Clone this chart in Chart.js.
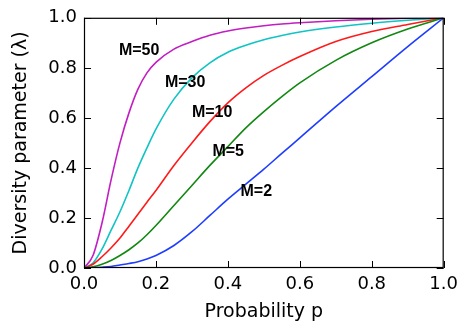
<!DOCTYPE html>
<html>
<head>
<meta charset="utf-8">
<script src="https://cdn.jsdelivr.net/npm/chart.js@4"></script>
<style>
    html, body { margin: 0; padding: 0; background: #ffffff; }
    #chart { display: block; }
</style>
</head>
<body>
<canvas id="chart" width="464" height="327"></canvas>
<script>
// Probability values where each curve is sampled
const pValues = [0, 0.025, 0.05, 0.075, 0.1, 0.125, 0.15, 0.175, 0.2, 0.25, 0.3, 0.35, 0.4, 0.45, 0.5, 0.55, 0.6, 0.7, 0.8, 0.9, 1.0];

// Diversity parameter for each M
const lambdaM2  = [0, 0.001, 0.003, 0.006, 0.012, 0.018, 0.025, 0.036, 0.05, 0.09, 0.145, 0.21, 0.275, 0.335, 0.395, 0.458, 0.52, 0.645, 0.765, 0.885, 1];
const lambdaM5  = [0, 0.005, 0.015, 0.03, 0.05, 0.073, 0.10, 0.133, 0.17, 0.25, 0.33, 0.41, 0.485, 0.56, 0.625, 0.685, 0.74, 0.83, 0.90, 0.955, 1];
const lambdaM10 = [0, 0.015, 0.045, 0.08, 0.12, 0.167, 0.215, 0.263, 0.31, 0.41, 0.50, 0.585, 0.66, 0.72, 0.77, 0.81, 0.845, 0.905, 0.945, 0.973, 1];
const lambdaM30 = [0, 0.02, 0.075, 0.15, 0.225, 0.31, 0.40, 0.48, 0.555, 0.675, 0.76, 0.82, 0.862, 0.89, 0.912, 0.929, 0.943, 0.963, 0.978, 0.99, 1];
const lambdaM50 = [0, 0.05, 0.18, 0.35, 0.5, 0.62, 0.715, 0.78, 0.822, 0.875, 0.905, 0.93, 0.947, 0.959, 0.968, 0.975, 0.98, 0.988, 0.994, 0.998, 1];

// Curve labels and where they sit (in data units: p, lambda)
const curveNames  = ['M=2', 'M=5', 'M=10', 'M=30', 'M=50'];
const labelP      = [0.435, 0.357, 0.300, 0.225, 0.097];
const labelLambda = [0.306, 0.465, 0.622, 0.742, 0.867];

// Tick values shared by both axes
const tickValues = [0, 0.2, 0.4, 0.6, 0.8, 1.0];

const LINE_COLORS = ['#1f3dff', '#118811', '#ff1a1a', '#11c4c4', '#c21ec2'];
const AXIS_FONT = 'DejaVu Sans';

const seriesList = [lambdaM2, lambdaM5, lambdaM10, lambdaM30, lambdaM50];

const datasets = seriesList.map((series, i) => ({
    label: curveNames[i],
    data: pValues.map((p, j) => ({ x: p, y: series[j] })),
    borderColor: LINE_COLORS[i],
    borderWidth: 1.6,
    pointRadius: 0,
    fill: false,
    cubicInterpolationMode: 'monotone'
}));

// Box around the plot with inward ticks on all four sides
const frameTicks = {
    id: 'frameTicks',
    afterDatasetsDraw(chart) {
        const { ctx, chartArea: a, scales } = chart;
        const len = 7;
        ctx.save();
        ctx.strokeStyle = '#000000';
        ctx.lineWidth = 1;
        ctx.beginPath();
        tickValues.forEach(v => {
            const x = Math.round(scales.x.getPixelForValue(v)) + 0.5;
            const y = Math.round(scales.y.getPixelForValue(v)) + 0.5;
            ctx.moveTo(x, a.bottom); ctx.lineTo(x, a.bottom - len);
            ctx.moveTo(x, a.top); ctx.lineTo(x, a.top + len);
            ctx.moveTo(a.left, y); ctx.lineTo(a.left + len, y);
            ctx.moveTo(a.right, y); ctx.lineTo(a.right - len, y);
        });
        ctx.stroke();
        ctx.lineWidth = 1.2;
        ctx.strokeRect(a.left + 0.5, a.top + 0.5, a.right - a.left - 1, a.bottom - a.top - 1);

        // curve names
        ctx.fillStyle = '#000000';
        ctx.font = 'bold 16px "Liberation Sans", Arial, sans-serif';
        ctx.textAlign = 'left';
        ctx.textBaseline = 'middle';
        curveNames.forEach((name, i) => {
            ctx.fillText(name, scales.x.getPixelForValue(labelP[i]), scales.y.getPixelForValue(labelLambda[i]));
        });
        ctx.restore();
    }
};

new Chart(document.getElementById('chart').getContext('2d'), {
    type: 'line',
    data: { datasets: datasets },
    options: {
        responsive: false,
        animation: false,
        layout: { padding: { left: 0, right: 16, top: 16, bottom: 0 } },
        plugins: {
            legend: { display: false },
            tooltip: { enabled: false }
        },
        scales: {
            x: {
                type: 'linear',
                min: 0,
                max: 1,
                afterFit(scale) { scale.height = 59; },
                afterBuildTicks(scale) { scale.ticks = tickValues.map(v => ({ value: v })); },
                grid: { display: false, drawTicks: false },
                border: { display: false },
                ticks: {
                    padding: 6,
                    color: '#000000',
                    maxRotation: 0,
                    font: { family: AXIS_FONT, size: 18 },
                    callback: v => v.toFixed(1)
                },
                title: {
                    display: true,
                    text: 'Probability p',
                    color: '#000000',
                    font: { family: AXIS_FONT, size: 19 },
                    padding: { top: 4, bottom: 4 }
                }
            },
            y: {
                type: 'linear',
                min: 0,
                max: 1,
                afterFit(scale) { scale.width = 84; },
                afterBuildTicks(scale) { scale.ticks = tickValues.map(v => ({ value: v })); },
                grid: { display: false, drawTicks: false },
                border: { display: false },
                ticks: {
                    padding: 7,
                    color: '#000000',
                    font: { family: AXIS_FONT, size: 18 },
                    callback: v => v.toFixed(1)
                },
                title: {
                    display: true,
                    text: 'Diversity parameter (λ)',
                    color: '#000000',
                    font: { family: AXIS_FONT, size: 19 },
                    padding: { top: 10, bottom: 10 }
                }
            }
        }
    },
    plugins: [frameTicks]
});
</script>
</body>
</html>
